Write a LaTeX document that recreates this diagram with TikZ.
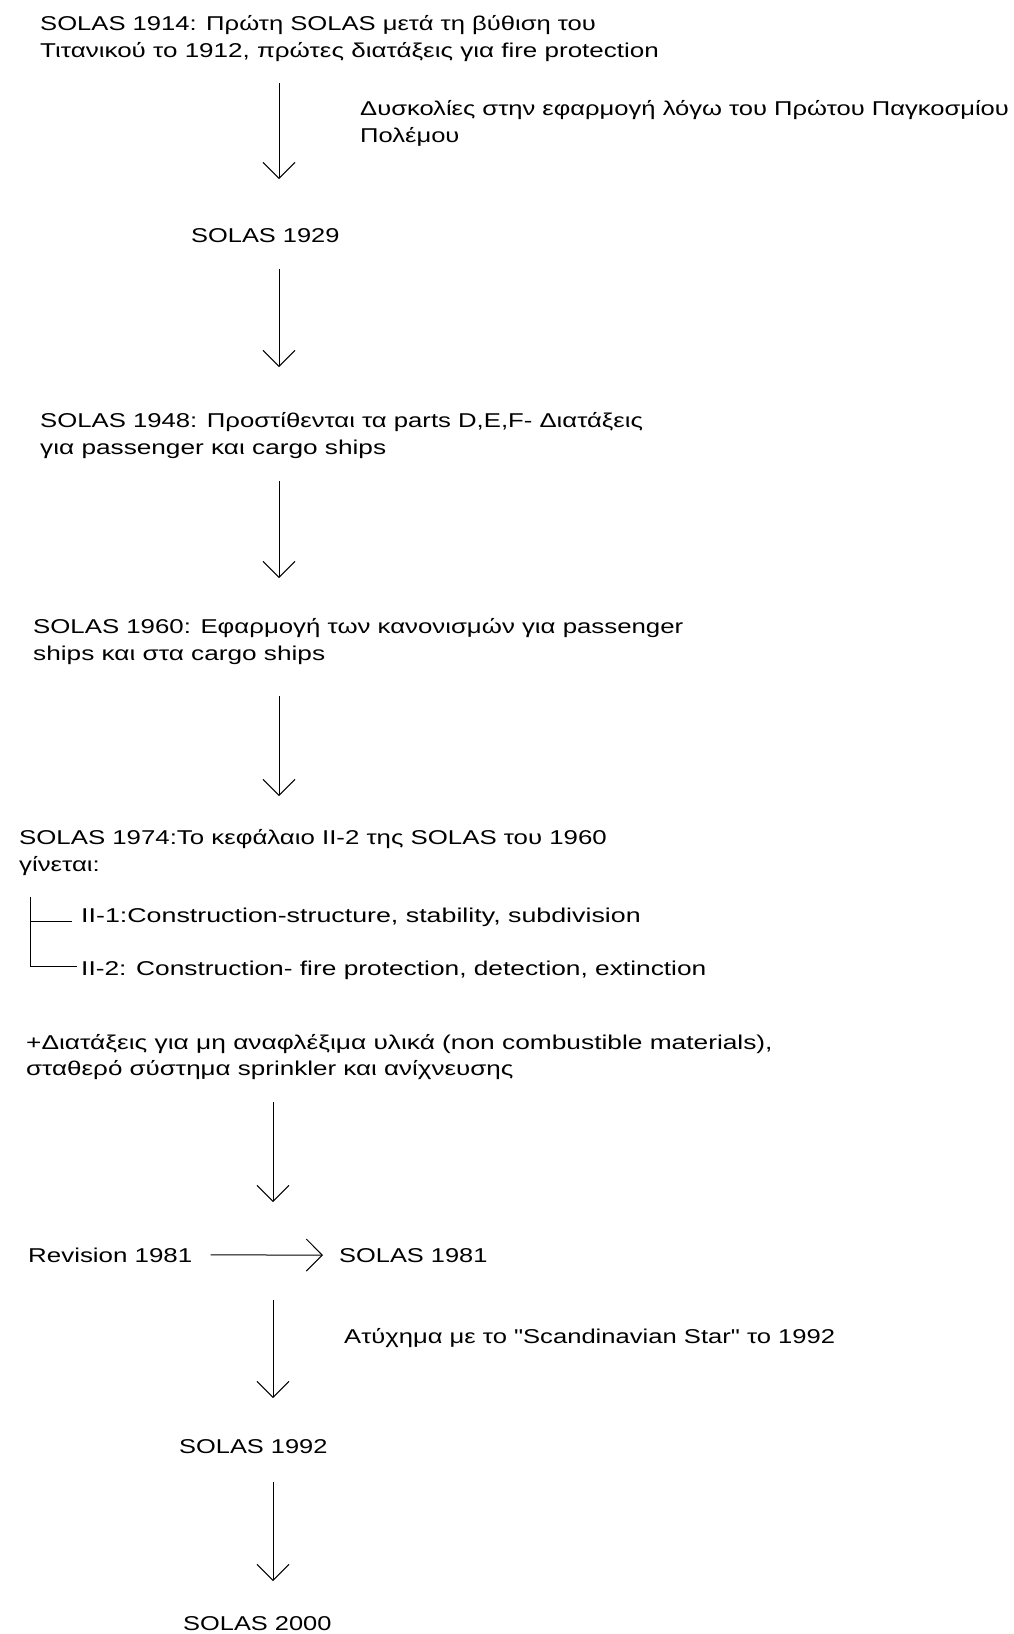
\documentclass[tikz,border=0pt]{standalone}
\usepackage{fontspec}
\setmainfont{Liberation Sans}[FakeStretch=1.27,Ligatures=TeXOff]
\newcommand\stretchfont[1]{\fontspec{Liberation Sans}[FakeStretch=#1,Ligatures=TeXOff]}
\usetikzlibrary{arrows.meta}
\begin{document}
\begin{tikzpicture}[x=1pt,y=-1pt,
  txt/.style={anchor=base west,inner sep=0pt,font=\stretchfont{#1}\fontsize{20pt}{26pt}\selectfont},
  txt/.default=1.27,
  arr/.style={line width=1pt,-{Straight Barb[length=16pt,width=32pt,line width=1pt]}},
  plain/.style={line width=1pt}]
\useasboundingbox[fill=white] (0,0) rectangle (1014,1634);
% texts
\node[txt=1.28] (n1a) at (40,30) {SOLAS 1914: Πρώτη SOLAS μετά τη βύθιση του};
\node[txt=1.30] (n1b) at (40,57) {Τιτανικού το 1912, πρώτες διατάξεις για fire protection};
\node[txt=1.278] (l1a) at (360,115.5) {Δυσκολίες στην εφαρμογή λόγω του Πρώτου Παγκοσμίου};
\node[txt=1.278] (l1b) at (360,142.5) {Πολέμου};
\node[txt] (n2) at (191,242.5) {SOLAS 1929};
\node[txt=1.285] (n3a) at (40,427) {SOLAS 1948: Προστίθενται τα parts D,E,F- Διατάξεις};
\node[txt=1.31] (n3b) at (40,454) {για passenger και cargo ships};
\node[txt=1.29] (n4a) at (33,633) {SOLAS 1960: Εφαρμογή των κανονισμών για passenger};
\node[txt=1.31] (n4b) at (33,660) {ships και στα cargo ships};
\node[txt=1.29] (n5a) at (19,844) {SOLAS 1974:Το κεφάλαιο II-2 της SOLAS του 1960};
\node[txt=1.29] (n5b) at (19,871) {γίνεται:};
\node[txt=1.34] (b1) at (81,922) {II-1:Construction-structure, stability, subdivision};
\node[txt=1.315] (b2) at (81,975) {II-2: Construction- fire protection, detection, extinction};
\node[txt=1.315] (n6a) at (26,1049) {+Διατάξεις για μη αναφλέξιμα υλικά (non combustible materials),};
\node[txt=1.30] (n6b) at (26,1075) {σταθερό σύστημα sprinkler και ανίχνευσης};
\node[txt=1.295] (rev) at (28,1262) {Revision 1981};
\node[txt] (n7) at (339,1262) {SOLAS 1981};
\node[txt=1.28] (l2) at (344,1343) {Ατύχημα με το "Scandinavian Star" το 1992};
\node[txt] (n8) at (179,1453.5) {SOLAS 1992};
\node[txt] (n9) at (183,1630) {SOLAS 2000};
% arrow end points
\coordinate (a1s) at (279,83);   \coordinate (a1e) at (279,179);
\coordinate (a2s) at (279,269);  \coordinate (a2e) at (279,367);
\coordinate (a3s) at (279,481);  \coordinate (a3e) at (279,578);
\coordinate (a4s) at (279,696);  \coordinate (a4e) at (279,796);
\coordinate (a5s) at (273,1102); \coordinate (a5e) at (273,1202);
\coordinate (a6s) at (273,1300); \coordinate (a6e) at (273,1398);
\coordinate (a7s) at (273,1482); \coordinate (a7e) at (273,1581);
\draw[arr] (a1s) -- (a1e);
\draw[arr] (a2s) -- (a2e);
\draw[arr] (a3s) -- (a3e);
\draw[arr] (a4s) -- (a4e);
\draw[arr] (a5s) -- (a5e);
\draw[arr] (a6s) -- (a6e);
\draw[arr] (a7s) -- (a7e);
\draw[arr] ([xshift=18pt]rev.east) -- ([xshift=-16pt]n7.west);
% bracket
\coordinate (bt) at (30,897);
\coordinate (bm) at (30,921);
\coordinate (bb) at (30,966);
\draw[plain] (bt) -- (bb);
\draw[plain] (bm) -- ([xshift=-9pt]b1.west |- bm);
\draw[plain] (bb) -- ([xshift=-4pt]b2.west |- bb);
\end{tikzpicture}
\end{document}
